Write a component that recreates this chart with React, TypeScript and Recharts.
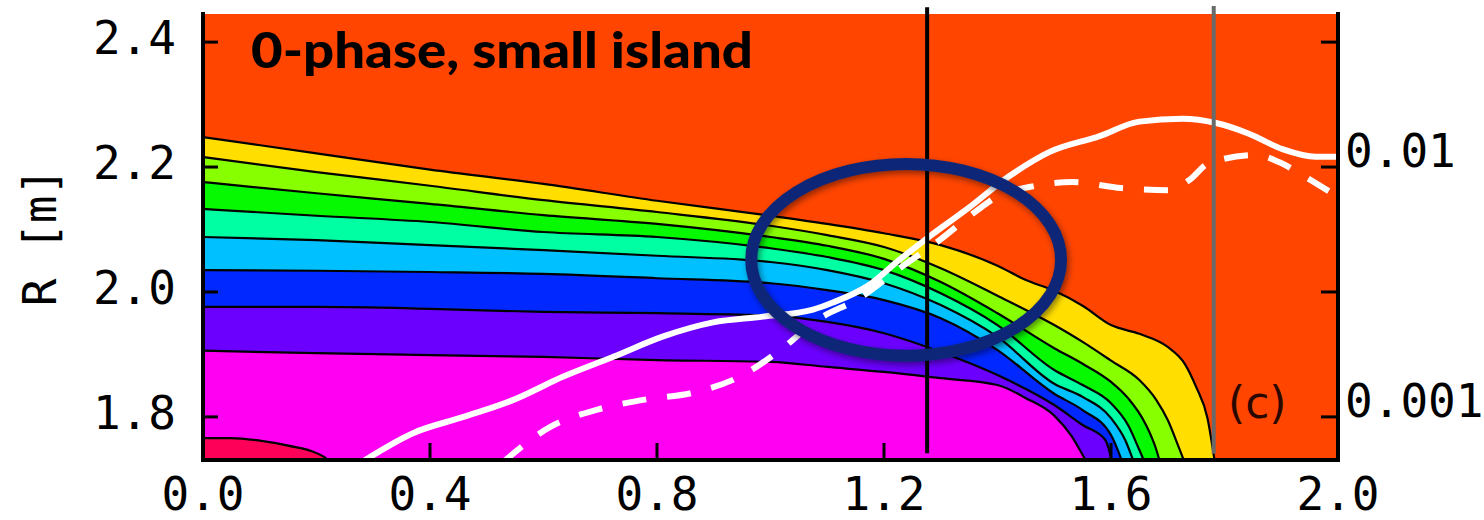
import React from 'react';
import {
  ComposedChart,
  Area,
  Line,
  XAxis,
  YAxis,
  CartesianGrid,
  ReferenceLine,
  ReferenceArea,
} from 'recharts';

// ---- axes -------------------------------------------------------------
const xTicks = [0, 0.4, 0.8, 1.2, 1.6, 2.0];
const rTicks = [1.8, 2.0, 2.2, 2.4];
const R_DOMAIN: [number, number] = [1.731, 2.445];

// twin log axis on the right: one decade per 0.4 m of R, 0.01 sits at R = 2.2
const toV = (r: number) => Math.pow(10, -2 + (r - 2.2) * 2.5);
const V_DOMAIN: [number, number] = [toV(R_DOMAIN[0]), toV(R_DOMAIN[1])];
const vTicks = rTicks.map(toV);

// ---- filled contour levels: [t, R] along each contour line ---------------
// orange | yellow
const contour1: [number, number][] = [
  [0, 2.248], [0.2, 2.222], [0.4, 2.196], [0.6, 2.173], [0.8, 2.146], [1.0, 2.122],
  [1.1, 2.109], [1.2, 2.094], [1.3, 2.075], [1.4, 2.042], [1.45, 2.019], [1.5, 2.002],
  [1.55, 1.978], [1.6, 1.947], [1.65, 1.933], [1.7, 1.912], [1.73, 1.885], [1.75, 1.848],
  [1.77, 1.798], [1.785, 1.715],
];
// yellow | yellow-green
const contour2: [number, number][] = [
  [0, 2.216], [0.2, 2.192], [0.4, 2.170], [0.6, 2.147], [0.8, 2.128], [1.0, 2.106],
  [1.1, 2.091], [1.2, 2.072], [1.3, 2.038], [1.4, 1.994], [1.5, 1.947], [1.55, 1.920],
  [1.6, 1.890], [1.65, 1.859], [1.68, 1.827], [1.7, 1.795], [1.72, 1.750], [1.735, 1.715],
];
// yellow-green | green
const contour3: [number, number][] = [
  [0, 2.176], [0.2, 2.158], [0.4, 2.141], [0.6, 2.123], [0.8, 2.109], [1.0, 2.088],
  [1.1, 2.074], [1.2, 2.053], [1.3, 2.016], [1.4, 1.966], [1.5, 1.910], [1.55, 1.885],
  [1.6, 1.856], [1.63, 1.830], [1.66, 1.790], [1.68, 1.747], [1.69, 1.715],
];
// green | spring green
const contour4: [number, number][] = [
  [0, 2.133], [0.2, 2.122], [0.4, 2.112], [0.6, 2.096], [0.8, 2.088], [1.0, 2.070],
  [1.1, 2.056], [1.2, 2.035], [1.3, 1.998], [1.4, 1.947], [1.5, 1.875], [1.55, 1.851],
  [1.6, 1.822], [1.63, 1.787], [1.65, 1.747], [1.665, 1.715],
];
// spring green | sky
const contour5: [number, number][] = [
  [0, 2.088], [0.2, 2.083], [0.4, 2.075], [0.6, 2.067], [0.8, 2.058], [1.0, 2.048],
  [1.1, 2.035], [1.2, 2.014], [1.3, 1.979], [1.4, 1.928], [1.5, 1.853], [1.55, 1.832],
  [1.6, 1.798], [1.625, 1.763], [1.645, 1.715],
];
// sky | blue
const contour6: [number, number][] = [
  [0, 2.035], [0.2, 2.034], [0.4, 2.032], [0.6, 2.029], [0.8, 2.022], [1.0, 2.014],
  [1.1, 2.003], [1.2, 1.987], [1.3, 1.958], [1.4, 1.907], [1.5, 1.837], [1.55, 1.811],
  [1.6, 1.771], [1.625, 1.715],
];
// blue | violet
const contour7: [number, number][] = [
  [0, 1.976], [0.2, 1.976], [0.4, 1.973], [0.6, 1.968], [0.8, 1.966], [1.0, 1.962],
  [1.1, 1.952], [1.2, 1.934], [1.3, 1.904], [1.4, 1.867], [1.5, 1.819], [1.55, 1.787],
  [1.59, 1.763], [1.605, 1.715],
];
// violet | magenta
const contour8: [number, number][] = [
  [0, 1.906], [0.2, 1.902], [0.4, 1.899], [0.6, 1.896], [0.8, 1.891], [1.0, 1.888],
  [1.1, 1.880], [1.2, 1.872], [1.3, 1.862], [1.4, 1.851], [1.45, 1.830], [1.5, 1.802],
  [1.53, 1.770], [1.555, 1.731], [1.565, 1.715],
];
// magenta | red
const contour9: [number, number][] = [
  [0, 1.766], [0.05, 1.766], [0.1, 1.762], [0.15, 1.754], [0.2, 1.742], [0.22, 1.731],
  [0.23, 1.715],
];

const backgroundFill = '#ff4500';
const bandFills = [
  '#ffde00', '#88ff00', '#06f900', '#00ffa2', '#00c0ff', '#0028ff', '#6b00ff', '#ff00f2', '#ff0058',
];
const contours = [contour1, contour2, contour3, contour4, contour5, contour6, contour7, contour8, contour9];

// ---- profiles on the log axis ---------------------------------------------
const profileSolid: [number, number][] = [
  [0.28, 0.00066], [0.371, 0.000863], [0.459, 0.001], [0.547, 0.00117], [0.635, 0.00145],
  [0.723, 0.00174], [0.811, 0.0021], [0.899, 0.00239], [0.987, 0.00252], [1.075, 0.00269],
  [1.11, 0.00287], [1.17, 0.00333], [1.228, 0.00427], [1.281, 0.00529], [1.346, 0.00678],
  [1.421, 0.0092], [1.492, 0.0115], [1.58, 0.0133], [1.65, 0.0152], [1.726, 0.0156],
  [1.785, 0.015], [1.843, 0.0136], [1.902, 0.0118], [1.961, 0.011], [2.0, 0.011],
];
const profileDashed: [number, number][] = [
  [0.529, 0.00066], [0.612, 0.000912], [0.695, 0.00107], [0.776, 0.00117], [0.864, 0.00125],
  [0.946, 0.00145], [1.017, 0.00185], [1.082, 0.00244], [1.157, 0.00299], [1.228, 0.00394],
  [1.298, 0.0051], [1.36, 0.0066], [1.404, 0.00773], [1.456, 0.00832], [1.532, 0.00871],
  [1.618, 0.00824], [1.703, 0.00808], [1.738, 0.00887], [1.773, 0.01038], [1.856, 0.01117],
  [1.896, 0.01047], [1.937, 0.00929], [2.0, 0.00759],
];

// ---- annotations ------------------------------------------------------------
const cutT = 1.276; // black vertical marker
const edgeT = 1.781; // grey vertical marker
const ring = { t0: 0.966, t1: 1.512, r0: 1.898, r1: 2.205 };

const TICK_FONT = 'DejaVu Sans Mono';
const TICK_SIZE = 46;

const toRows = (pts: [number, number][], key: string) => pts.map(([x, v]) => ({ x, [key]: v }));

const BottomTick = (props: any) => {
  const { x, y, payload } = props;
  return (
    <g>
      <line x1={x} x2={x} y1={y} y2={y - 17} stroke="#000" strokeWidth={3} />
      <text x={x} y={y + 50} textAnchor="middle" fontFamily={TICK_FONT} fontSize={TICK_SIZE} fill="#000">
        {Number(payload.value).toFixed(1)}
      </text>
    </g>
  );
};

const TopTick = (props: any) => {
  const { x, y } = props;
  return <line x1={x} x2={x} y1={y} y2={y + 17} stroke="#000" strokeWidth={3} />;
};

const LeftTick = (props: any) => {
  const { x, y, payload } = props;
  return (
    <g>
      <line x1={x} x2={x + 15} y1={y} y2={y} stroke="#000" strokeWidth={3} />
      <text x={x - 27} y={y + 12} textAnchor="end" fontFamily={TICK_FONT} fontSize={TICK_SIZE} fill="#000">
        {Number(payload.value).toFixed(1)}
      </text>
    </g>
  );
};

const RightTick = (props: any) => {
  const { x, y, payload } = props;
  const lg = Math.log10(payload.value);
  const isDecade = Math.abs(lg - Math.round(lg)) < 1e-6;
  return (
    <g>
      <line x1={x} x2={x - 17} y1={y} y2={y} stroke="#000" strokeWidth={3} />
      {isDecade && (
        <text x={x + 7} y={y} textAnchor="start" fontFamily={TICK_FONT} fontSize={TICK_SIZE} fill="#000">
          {String(Number(payload.value.toPrecision(3)))}
        </text>
      )}
    </g>
  );
};

const RingShape = (props: any) => {
  const { x, y, width, height } = props;
  return (
    <g>
      <defs>
        <filter id="ringShadow" x="-20%" y="-20%" width="140%" height="140%">
          <feDropShadow dx="2" dy="3" stdDeviation="3" floodColor="#000" floodOpacity="0.45" />
        </filter>
      </defs>
      <ellipse
        cx={x + width / 2}
        cy={y + height / 2}
        rx={width / 2}
        ry={height / 2}
        fill="none"
        stroke="#0d2878"
        strokeWidth={12}
        filter="url(#ringShadow)"
      />
    </g>
  );
};

const frameLine = { stroke: '#000', strokeWidth: 4, strokeLinecap: 'square' as const };

export default function App() {
  return (
    <div style={{ position: 'absolute', left: 0, top: 0, width: 1484, height: 520, background: '#fff' }}>
      <ComposedChart width={1484} height={520} margin={{ top: 14, right: 0, bottom: 0, left: 0 }}>
        <CartesianGrid horizontal={false} vertical={false} fill={backgroundFill} fillOpacity={1} />
        <XAxis
          dataKey="x"
          type="number"
          domain={[0, 2]}
          ticks={xTicks}
          interval={0}
          allowDataOverflow
          height={60}
          tickSize={0}
          tickMargin={0}
          tickLine={false}
          axisLine={frameLine}
          tick={<BottomTick />}
        />
        <XAxis
          xAxisId="top"
          orientation="top"
          type="number"
          domain={[0, 2]}
          ticks={xTicks}
          interval={0}
          height={0}
          tickSize={0}
          tickMargin={0}
          tickLine={false}
          axisLine={frameLine}
          tick={<TopTick />}
        />
        <YAxis
          type="number"
          domain={R_DOMAIN}
          ticks={rTicks}
          interval={0}
          allowDataOverflow
          width={203}
          tickSize={0}
          tickMargin={0}
          tickLine={false}
          axisLine={frameLine}
          tick={<LeftTick />}
          label={{
            value: 'R [m]',
            angle: -90,
            position: 'insideLeft',
            offset: 40,
            style: { fontFamily: TICK_FONT, fontSize: TICK_SIZE, fill: '#000', textAnchor: 'middle' },
          }}
        />
        <YAxis
          yAxisId="v"
          orientation="right"
          type="number"
          scale="log"
          domain={V_DOMAIN}
          ticks={vTicks}
          interval={0}
          allowDataOverflow
          width={146}
          tickSize={0}
          tickMargin={0}
          tickLine={false}
          axisLine={frameLine}
          tick={<RightTick />}
        />

        {contours.map((c, i) => (
          <Area
            key={`band-${i}`}
            data={toRows(c, 'r')}
            dataKey="r"
            type="monotone"
            baseValue="dataMin"
            fill={bandFills[i]}
            fillOpacity={1}
            stroke="#000"
            strokeWidth={2.2}
            dot={false}
            activeDot={false}
            isAnimationActive={false}
          />
        ))}

        <Line
          yAxisId="v"
          data={toRows(profileSolid, 'v')}
          dataKey="v"
          type="monotone"
          stroke="#ffffff"
          strokeWidth={6}
          dot={false}
          activeDot={false}
          isAnimationActive={false}
        />
        <Line
          yAxisId="v"
          data={toRows(profileDashed, 'v')}
          dataKey="v"
          type="monotone"
          stroke="#ffffff"
          strokeWidth={6}
          strokeDasharray="24 21"
          dot={false}
          activeDot={false}
          isAnimationActive={false}
        />

        <ReferenceLine
          segment={[{ x: cutT, y: 2.456 }, { x: cutT, y: 1.742 }]}
          stroke="#000"
          strokeWidth={4}
          ifOverflow="visible"
          zIndex={450}
        />
        <ReferenceLine
          segment={[{ x: edgeT, y: 2.458 }, { x: edgeT, y: 1.741 }]}
          stroke="#6a6a6a"
          strokeWidth={4}
          ifOverflow="visible"
          zIndex={450}
        />

        <ReferenceArea
          x1={ring.t0}
          x2={ring.t1}
          y1={ring.r0}
          y2={ring.r1}
          shape={<RingShape />}
          ifOverflow="visible"
          zIndex={1500}
        />
      </ComposedChart>
      <svg
        width={1484}
        height={520}
        style={{ position: 'absolute', left: 0, top: 0, pointerEvents: 'none' }}
      >
        <text
          x={251}
          y={68}
          fontFamily="Lato"
          fontWeight={900}
          fontSize={50}
          textLength={502}
          lengthAdjust="spacingAndGlyphs"
          fill="#000"
        >
          0-phase, small island
        </text>
        <text x={1228} y={418} fontFamily="DejaVu Sans" fontSize={44} fill="#2a0800">
          (c)
        </text>
      </svg>
    </div>
  );
}
